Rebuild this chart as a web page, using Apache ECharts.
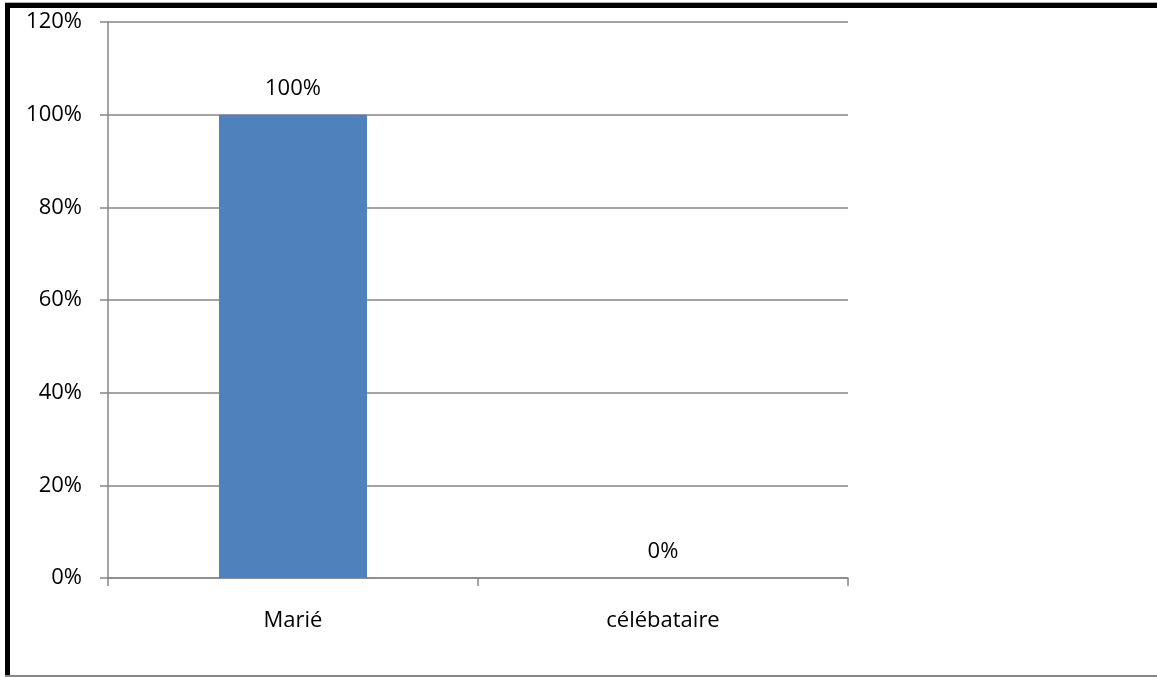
<!DOCTYPE html>
<html>
<head>
<meta charset="utf-8">
<script src="https://cdn.jsdelivr.net/npm/echarts@6/dist/echarts.min.js"></script>
<style>
  html, body { margin: 0; padding: 0; background: #fff; }
  #chart { width: 1157px; height: 677px; }
</style>
</head>
<body>
<div id="chart"></div>
<script>
// Marital status shares (percent)
const categories = ['Marié', 'célébataire'];
const shares = [100, 0];
const yTicks = [0, 20, 40, 60, 80, 100, 120];

const FONT = '"Open Sans", Lato, sans-serif';
const FONT_SIZE = 22;
const GREY = '#868686';

const chart = echarts.init(document.getElementById('chart'), null, { renderer: 'canvas' });
chart.setOption({
  animation: false,
  backgroundColor: '#ffffff',
  graphic: [
    // frame: thick black top and left edges, thin grey outer lines
    { type: 'rect', shape: { x: 5, y: 2, width: 1152, height: 1 }, style: { fill: '#b0b0b0' } },
    { type: 'rect', shape: { x: 5, y: 3, width: 1152, height: 5 }, style: { fill: '#000' } },
    { type: 'rect', shape: { x: 5, y: 3, width: 5, height: 674 }, style: { fill: '#000' } },
    { type: 'rect', shape: { x: 5, y: 675, width: 1152, height: 2 }, style: { fill: GREY } }
  ],
  grid: { left: 108, right: 309, top: 22, bottom: 99, containLabel: false },
  xAxis: {
    type: 'category',
    data: categories,
    axisLine: { show: true, lineStyle: { color: GREY, width: 1.5 } },
    axisTick: { show: true, alignWithLabel: false, length: 8, lineStyle: { color: GREY, width: 1.5 } },
    axisLabel: { color: '#000', fontFamily: FONT, fontSize: FONT_SIZE, margin: 32 }
  },
  yAxis: {
    type: 'value',
    min: yTicks[0],
    max: yTicks[yTicks.length - 1],
    interval: 20,
    axisLine: { show: true, lineStyle: { color: GREY, width: 1.5 } },
    axisTick: { show: true, length: 8, lineStyle: { color: GREY, width: 1.5 } },
    splitLine: { show: true, lineStyle: { color: GREY, width: 1.5 } },
    axisLabel: {
      color: '#000', fontFamily: FONT, fontSize: FONT_SIZE, margin: 26,
      formatter: v => v + '%'
    }
  },
  series: [{
    type: 'bar',
    data: shares,
    barWidth: '40%',
    itemStyle: { color: '#4F81BD' },
    label: {
      show: true,
      position: 'top',
      distance: 15,
      color: '#000',
      fontFamily: FONT,
      fontSize: FONT_SIZE,
      formatter: p => p.value + '%'
    }
  }]
});
</script>
</body>
</html>
